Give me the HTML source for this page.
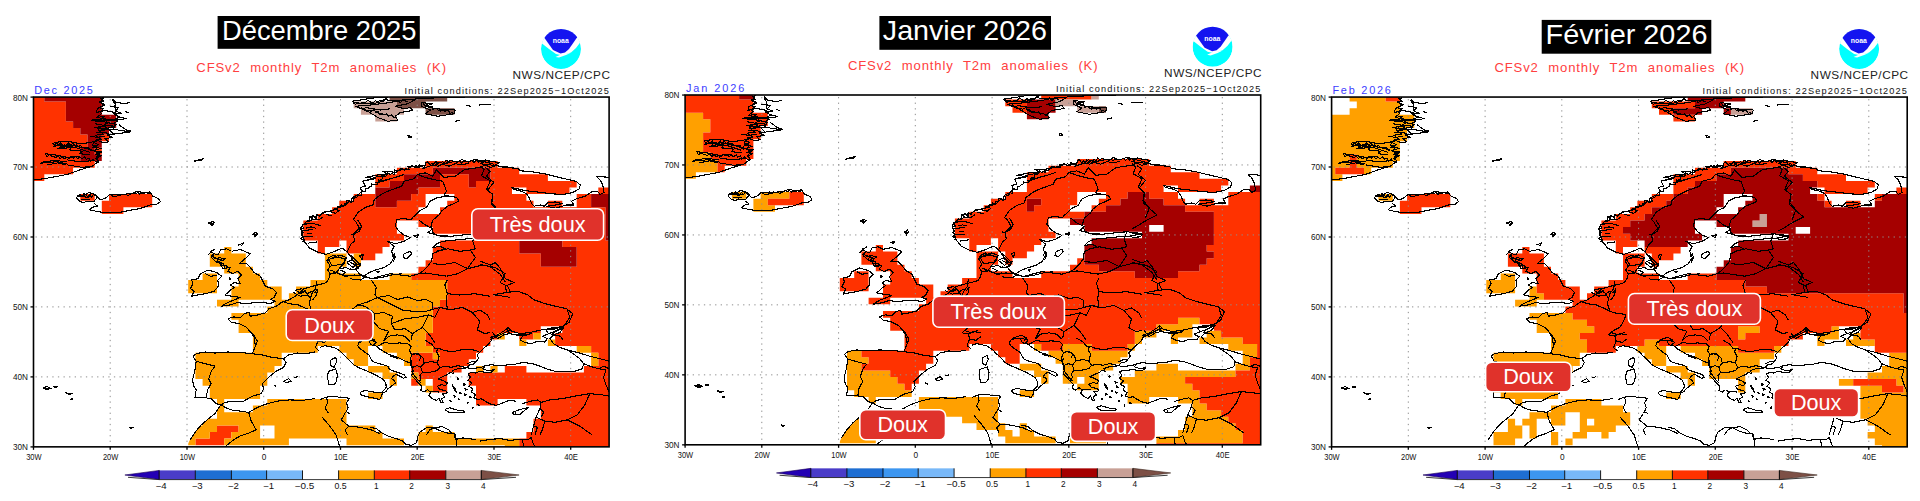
<!DOCTYPE html><html><head><meta charset="utf-8"><title>CFSv2 T2m anomalies</title>
<style>html,body{margin:0;padding:0;background:#fff}body{width:1920px;height:501px;overflow:hidden;font-family:"Liberation Sans",sans-serif}svg{display:block}text{font-family:"Liberation Sans",sans-serif}.m{font-family:"Liberation Mono",monospace}</style></head><body>
<svg width="1920" height="501" viewBox="0 0 1920 501">
<defs>
<clipPath id="frame"><rect x="33.5" y="97.05" width="575.6" height="349.8"/></clipPath>
<g id="coast" fill="none" stroke="#000" stroke-width="1.1" stroke-linejoin="round" shape-rendering="crispEdges">
<path d="M103.6,97.5 101.1,102.5 104.9,104.5 97.4,108.7 96.2,112.5 104.9,110.5 114.9,112.5 117.4,116.2 126.1,118.7 117.4,120 104.9,120 91.2,120.5 104.9,122 116.1,124.5 112.4,127.5 103.6,128.7 94.9,127.5 104.9,129.9 117.4,129.9 129.9,131.9 117.4,133.7 107.4,134.9 112.4,137.4 104.9,138.7 108.6,141.9 102.4,142.4 96.2,139.9 92.4,144.9 97.4,147.4 94.9,151.2 99.9,153.7 96.2,157.4 98.6,161.2 92.4,166.1 79.9,169.9 67.4,174.4 45,178.6 33.7,179.9"/>
<path d="M53.7,142.4 67.4,141.2 79.9,143.7 92.4,142.4"/>
<path d="M52.5,146.2 69.9,144.9 87.4,148.7 92.4,151.2"/>
<path d="M57.5,148.7 74.9,147.4 89.9,152.4"/>
<path d="M45,153.7 55,154.9 67.4,157.4 79.9,156.2"/>
<path d="M41.2,162.4 55,160.4 67.4,161.9"/>
<path d="M47.5,164.9 57.5,162.9 66.2,164.9"/>
<path d="M67.4,159.9 79.9,161.9 93.7,160.4 98.6,162.4"/>
<path d="M67.4,164.9 82.4,167.4 92.4,166.1"/>
<path d="M112.4,98.7 116.1,102.5 126.1,103.7 129.9,102"/>
<path d="M109.9,106.2 118.6,107.5 116.1,110.5"/>
<path d="M124.9,111.2 128.6,113"/>
<path d="M118.6,124.5 126.1,129.9 131.1,131.2"/>
<path d="M92.4,120 102.4,118.7 116.1,120"/>
<path d="M55,143.7 62.5,144.9 60,147.4 72.4,146.2 69.9,149.9 82.4,151.2 79.9,153.7 89.9,154.9"/>
<path d="M94.9,123.7 104.9,125.5 114.9,126.2"/>
<path d="M96.2,132.4 104.9,132.4 109.9,134.4"/>
<path d="M89.9,136.2 97.4,137.4 104.9,136.2"/>
<path d="M76.2,197.8 79.9,194.4 83.7,196.1 88.7,192.4 95.4,194.4 96.9,197.8 93.7,201.8 86.9,201.1 83.7,202.8 79.4,201.1 76.2,197.8"/>
<path d="M95.4,194.4 99.9,199.8 104.9,198.6 109.9,194.4 113.6,196.8 123.6,194.4 128.6,195.3 137.3,191.1 143.6,192.9 149.8,191.9 152.8,196.1 158.6,198.6 160.3,201.8 156.1,204.8 152.3,204.3 139.8,208.6 129.9,210.3 119.9,212.3 104.9,212.8 95.4,211.1 89.9,209.8 92.4,207.3 97.4,206.1 93.7,202.8"/>
<path d="M79.9,196.1 87.4,197.3 92.4,196.1"/>
<path d="M81.2,199.3 89.9,199.8"/>
<path d="M193.7,161.2 200,159.4 203.7,158.7 201.2,160.4 193.7,161.2"/>
<path d="M351.6,101.3 360.4,100 372.9,98 387.8,97.5 382.9,101.3 372.9,103.8 360.4,103.8 351.6,101.3"/>
<path d="M355.4,106.3 370.4,105 390.3,102.5 402.8,100 415.3,99.5 407.8,103.8 395.3,106.3 404.1,108.8 410.3,107.5 412.8,110.5 400.3,112.5 395.3,116.3 397.8,120 387.8,121.3 377.9,117.5 367.9,111.3 355.4,106.3"/>
<path d="M415.3,98.8 432.8,98 447.8,97.5 465.2,97"/>
<path d="M421.5,102.5 432.8,103.8 425.3,106.3 436.5,108.8 455.2,110 454,113.8 437.8,116.3 425.3,113.8 430.3,110 421.5,106.3 421.5,102.5"/>
<path d="M466.5,105.5 471.5,106.3"/>
<path d="M479,105 491.4,104.5"/>
<path d="M455.2,121.3 460.2,120"/>
<path d="M407.8,135 411.6,137 408.3,137.5 407.8,135"/>
<path d="M365.4,107.5 380.4,110 390.3,108.8"/>
<path d="M375.4,112.5 387.8,115"/>
<path d="M350.4,202.9 354.1,201.1 352.9,197.4 357.9,194.9 361.6,191.2 360.4,187.4 365.4,186.2 362.9,181.2 375.4,178.7 365.4,177.4 377.9,174.9 387.8,174.4 382.9,171.2 396.6,172.4 400.3,168.7 409.1,169.9 407.8,166.2 417.8,167.4 425.3,165.4 422.8,168.7 432.8,164.9 436.5,161.9 445.3,163.7 450.3,160.5 457.7,162.4 461.5,159.5 467.7,161.9 475.2,159.5 482.7,161.2 486.4,160.5 480.2,163.7 490.2,164.9 500.2,166.2 510.4,167.4"/>
<path d="M362.9,181.2 369.1,179.4 376.6,176.9 385.3,175.4"/>
<path d="M375.4,182.9 387.8,179.4 395.3,177.4 404.1,174.4"/>
<path d="M377.9,179.9 382.9,181.2 390.3,178.7"/>
<path d="M432.8,164.9 437.8,166.2 442.8,164.4 449,166.2 455.2,163.7 462.7,164.9 469,162.9"/>
<path d="M417.3,174.4 414.1,178.7 404.1,181.2 401.6,186.2 387.8,191.2 380.4,194.9 374.1,199.9 372.9,204.9 365.4,207.4 357.9,212.4 352.9,220.1"/>
<path d="M417.3,174.4 425.3,172.9 432.8,176.2 436.5,169.9 444,177.4 455.2,176.2 464,169.9 470.2,168.7 480.2,167.4 485.2,164.9"/>
<path d="M417.3,174.4 425.3,177.4 435.3,179.9 442.8,181.2 446.5,191.2 444,194.9 449,196.1"/>
<path d="M485.2,167.4 490.2,171.2 486.4,176.2 493.9,182.4 487.7,189.9 492.7,194.9 491.4,202.4 497.7,209.9 493.9,220.1"/>
<path d="M485.2,164.9 490.2,167.4 495.2,166.2"/>
<path d="M449,196.1 437.8,197.4 430.3,201.1 426.5,207.4 420.3,210.4 412.8,217.4 410.3,220.1"/>
<path d="M449,196.1 456.5,197.4 459,201.1 454,203.6 447.8,206.1 441.5,211.1 439,214.9 432.8,220.1"/>
<path d="M480.4,161.5 485.4,160 491.6,161.5 499.1,162.5 495.4,165 504.1,167.5 517.8,168.3 520.3,170.8 530.3,171.5 545.3,174 555.3,176.5 570.3,180 576.5,181.5 580.3,185 579,189 572.8,192.5 562.8,194.5 550.3,193.7 537.8,192 525.3,190.7 517.8,188.8 511.6,187.5 514.1,189.5 521.6,191.2 526.6,193.7 529.1,197.5 531.6,203.7 534.1,206.2 540.3,205 544.1,206.2 547.8,202.5 555.3,202 562.8,203.7 555.3,205 546.6,206.2 555.3,208.2 566.5,205 574,205 571.5,201.2 576.5,198.7 585.2,196.2 591.5,192 597.7,191.5 600.2,194.5 604,192.5 602.7,185 600.2,180 596.5,176.5 605.2,177 609,177.5"/>
<path d="M480.4,165.8 484.1,169.5 481.6,175.8 490.4,180.8 486.6,189.5 492.9,194.5 491.6,204.5 497.9,210.7 505.4,217 495.4,222 485.4,228.2 480.4,230.7"/>
<path d="M480.4,235.7 490.4,236.4 489.1,238.9 480.4,239.4"/>
<path d="M480.4,264.4 490.4,266.9 500.4,274.4 505.4,282.1"/>
<path d="M208.4,223 212.4,221.5 214.6,222.5 211.9,225.5 210.4,223.5 208.4,223"/>
<path d="M210.4,222.5 212.9,223.5 211.6,224.5"/>
<path d="M252.3,234.5 255.8,232 257.3,234 254.8,237 254.1,234.5 252.3,234.5"/>
<path d="M254.1,233 255.8,235"/>
<path d="M238.3,245 243.3,243 241.8,245.5 239.8,244.5 238.3,245"/>
<path d="M231.6,251.3 240.3,249.5 250.3,253.7 246.6,257.5 239.1,263.7 246.6,263.7 250.3,267.5 254.1,272.5 260.3,276.2 262.8,281.2 265.3,286.2 272.8,288.7 276.5,292.4 274,297.4 270.3,299.4 275.3,301.2 270.3,303.7 262.8,302.4 252.8,302.9 244.1,303.7 237.8,302.4 230.3,304.9 221.6,306.2 227.8,302.4 234.1,299.9 240.3,297.4 231.6,296.2 225.3,294.9 229.1,291.2 234.1,287.4 230.3,285 234.1,282.5 240.3,283.7 237.8,278.7 241.6,275 237.8,271.2 232.8,273.7 227.8,271.2 230.3,267.5 222.9,268.7 220.4,263.7 215.4,261.2 211.6,257.5 214.1,253.7 217.9,255 220.4,250 226.6,248.8 231.6,251.3"/>
<path d="M214.1,257.5 221.6,260 217.9,262.5 224.1,263.7"/>
<path d="M207.9,255 211.6,251.3 215.4,248.8"/>
<path d="M217.9,257.5 225.3,258.7 221.6,261.2"/>
<path d="M220.4,265 227.8,266.2 225.3,268.7"/>
<path d="M200.4,273.7 207.9,270 216.6,272.5 221.6,276.2 217.9,280 218.4,286.2 214.1,291.2 205.4,293.7 197.9,294.9 191.6,296.2 194.1,291.2 190.4,288.7 192.9,283.7 191.6,280 197.9,278.7 200.4,273.7"/>
<path d="M205.4,273.7 210.4,276.2 216.6,275.5"/>
<path d="M229.1,277 230.8,278.7 229.1,280 229.1,277"/>
<path d="M227.8,318.7 234.1,316.9 240.3,317.9 244.1,313.7 249.1,312.4 250.3,316.2 257.8,314.9 265.3,312.9 269,308.7 276.5,306.2 281.5,302.4 289,299.9 295.2,296.2 300.2,292.4 304,288.7 310.2,286.9 315.2,285.5 320.2,284.5 326.4,282.5 328.9,278.7 330.2,273.7 327.7,270 330.2,266.2 327.2,261.2 328.9,257.5 333.9,255 337.7,257.5 340.2,255"/>
<path d="M227.8,318.7 231.6,322.4 239.1,323.6 246.6,327.4 250.3,331.1 254.1,337.4 255.3,345.1"/>
<path d="M300.2,292.4 304,291.2 307.7,293.7 311.5,291.2 315.2,292.4 317.7,288.7"/>
<path d="M326.4,261.2 332.7,257.5 340.2,255 346.4,257.5 343.9,263.7 340.2,267.5 336.4,272.5 330.2,273.7"/>
<path d="M340.2,268.7 346.4,267.5 350.4,270"/>
<path d="M338.9,273.7 345.2,276.2 350.4,275"/>
<path d="M317.7,288.7 316.5,294.9 312.7,299.9"/>
<path d="M330.2,273.7 336.4,273"/>
<path d="M312.7,332.4 320.2,334.9 326.4,332.4"/>
<path d="M396.6,220.1 395.3,226.3 399.1,231.3 404.1,235 410.3,237.5 404.1,241.3 395.3,243.8 387.8,241.3 394.1,246.3 391.6,251.3 394.1,257.5 390.3,263.7 384.1,267.5 375.4,270 369.1,272.5 364.1,276.2 359.1,273.7 355.4,268.7 360.4,265 356.6,261.2 352.9,257.5 350.4,255"/>
<path d="M357.9,220.1 361.6,226.3 359.1,231.3 352.9,235 350.4,233.8"/>
<path d="M419,220.1 425.3,225 432.8,228.8 427.8,232.5 436.5,235 450.3,236.3 462.7,235 475.2,233.8 490.2,235.5 480.2,238 467.7,238.8 455.2,240 442.8,241.3 436.5,243.8 432.8,247.5 440.3,246.3 445.3,248.8 437.8,251.3 432.8,253.7 431.5,261.2 427.8,266.2 422.8,271.2 419,273.7"/>
<path d="M419,273.7 410.3,276.2 400.3,275 390.3,273.7 380.4,276.2 371.6,278.7 365.4,277 360.4,280 354.1,279.5 350.4,278.7"/>
<path d="M404.1,253.7 410.3,251.3 411.6,253.7 406.6,258.7 403.3,257.5 404.1,253.7"/>
<path d="M391.6,257.5 394.1,253.7 395.3,257.5 392.8,262.5"/>
<path d="M376.6,271.2 379.1,271.2 377.9,273 376.6,271.2"/>
<path d="M350.4,262.5 355.4,265 360.4,263.7 357.9,268.7 352.9,270 350.4,268.7"/>
<path d="M419,273.7 425.3,273 435.3,274.5 446.5,276.2"/>
<path d="M432.8,263.7 442.8,264.5 455.2,262.5 467.7,268.7"/>
<path d="M436.5,251.3 447.8,248.8 460.2,251.3 470.2,250"/>
<path d="M475.2,233.8 472.7,241.3 475.2,248.8 470.2,250"/>
<path d="M470.2,250 475.2,257.5 467.7,268.7"/>
<path d="M467.7,268.7 457.7,273.7 446.5,276.2"/>
<path d="M495.2,294.9 510.4,297.4"/>
<path d="M467.7,268.7 482.7,265 495.2,267.5 505.2,273.7 500.2,282.5 507.7,286.2 510.4,292.4"/>
<path d="M490.2,339.9 500.2,334.9 510.4,329.9"/>
<path d="M480.4,261.2 490.4,265 495.4,262.5 500.4,268.7 505.4,278.7 514.1,282.5 505.4,286.2 506.6,292.4 492.9,294.9"/>
<path d="M506.6,292.4 517.8,291.2 527.8,294.9 534.1,299.9 545.3,303.7 555.3,306.2 566.5,308.7 572.8,313.7 569,322.4 562.8,326.1 552.8,329.9 541.6,329.9"/>
<path d="M505.4,329.9 507.9,327.4 511.6,331.1 520.3,333.6 530.3,332.4 541.6,329.9 550.3,328.6 562.8,327.4 555.3,331.1 551.5,334.9 560.3,336.1 562.8,339.9"/>
<path d="M490.4,337.4 497.9,334.9 505.4,329.9"/>
<path d="M248.7,330 253.7,335 257.4,341.2 254.9,347.5 252.4,353.7"/>
<path d="M252.4,353.7 239.9,352.5 227.4,352 215,353 205,352 196.2,353.7 193,356.2 196.2,361.2"/>
<path d="M196.2,361.2 195,369.9 192.5,379.9 193.7,386.2 196.2,389.9 195,397.4 206.2,397.9"/>
<path d="M206.2,397.9 211.2,398.6 216.2,403.6 221.2,404.9"/>
<path d="M221.2,404.9 224.9,402.4 233.7,401.1 243.7,401.1 252.4,396.2 261.1,393.7 263.6,388.7 262.4,383.7 269.9,376.2 276.1,371.2 283.6,367.4 286.1,362.5 283.6,358.7 288.6,355 297.3,353 306.1,353.7 314.8,352"/>
<path d="M196.2,361.2 205,363.7 215,366.2 211.2,371.2 208.7,378.7 211.2,383.7 207.5,389.9 206.2,397.9"/>
<path d="M252.4,353.7 262.4,355 272.4,357.5 283.6,358.7"/>
<path d="M283.6,381.2 288.6,378.7 291.1,381.2 286.1,382.9 283.6,381.2"/>
<path d="M293.6,377.4 297.8,376.9"/>
<path d="M273.6,384.9 276.1,386.2"/>
<path d="M190,439.8 195,432.3 201.2,424.9 208.7,418.6 215,413.6 220,406.1 221.2,404.9"/>
<path d="M221.2,404.9 224.9,407.4 231.2,409.9 239.9,411.1 248.7,412.4 257.4,407.4 267.4,403.6 277.4,401.1 289.9,399.9 302.3,400.4 314.8,398.6"/>
<path d="M248.7,412.4 251.2,421.1 256.2,429.9 247.4,433.6 239.9,436.1 233.7,439.8 224.9,446.8"/>
<path d="M322.3,417.4 329.8,426.1 336,434.8 339.8,446.8"/>
<path d="M347.3,412.4 350,413.6"/>
<path d="M345,413.6 341.2,419.8 348.7,426.1 360,427.3 371.2,429.8 379.9,433.6"/>
<path d="M348.7,426.1 345,429.8 347.5,435.1"/>
<path d="M426.1,435.1 429.9,429.8 434.8,427.3 442.3,426.8 448.6,429.8 452.3,433.6"/>
<path d="M497.4,338.7 503.7,335 508.7,333.7 507.4,328.7 509.9,333.7 516.2,335 523.7,335 531.1,333.7 522.4,336.2 519.9,340 524.9,342.5 531.1,343.7 537.4,341.2 544.9,342 547.4,338.7 542.4,336.2 548.6,333.7 556.1,331.2 563.6,327.5 559.9,332.5 553.6,335 549.9,338.7 553.6,343.7 559.9,347.4 567.3,349.9 574.8,354.9 579.8,358.7 583.6,363.7 582.3,368.7 574.8,371.2 564.8,371.9 554.9,371.2 546.1,368.7 539.9,366.2 532.4,363.7 523.7,362.4 516.2,363.7"/>
<path d="M548.6,333.7 546.1,330 551.1,328 559.9,327 563.6,327.5"/>
<path d="M522.4,403.6 531.1,401.1 537.4,399.9 541.1,402.4 539.9,408.6 536.1,417.3 533.6,426.1 531.1,435.1"/>
<path d="M518.7,409.9 528.6,407.4 523.7,411.1 519.9,414.3"/>
<path d="M541.1,402.4 549.9,399.9 562.3,398.6 574.8,396.1 589.8,393.6 602.3,394.9 609.3,396.1"/>
<path d="M583.6,363.7 589.8,366.2 598.5,368.7 606,369.9 603.5,377.4 606,384.9 609.3,392.4"/>
<path d="M567.3,349.9 577.3,352.4 589.8,356.2 599.8,358.7 609.3,361.2"/>
<path d="M598.5,368.7 603.5,366.2 609.3,368.7"/>
<path d="M589.8,393.6 584.8,404.9 577.3,414.8 567.3,419.8"/>
<path d="M536.1,417.3 544.9,421.1 554.9,422.3 567.3,419.8 579.8,426.1 592.3,435.1"/>
<path d="M539.9,408.6 543.6,412.3 541.1,417.3"/>
<path d="M533.6,426.1 537.4,427.3 534.9,435.1"/>
<path d="M544.9,421.1 542.4,429.8 539.9,435.1"/>
<path d="M492.5,332.5 497.4,338.7"/>
<path d="M567.3,310 569.8,317.5 564.8,325 556.1,331.2"/>
<path d="M370,427.1 376.6,428.8 381.6,432.9 388.2,436.2 396.5,438.7 403.1,441.2 405.6,444.5 411.4,445.3 416.4,442.8 418,436.2 419.7,432.1 426.3,427.9 432.9,427.1 439.5,430.4 446.2,432.9 454.4,433.7 455.3,439.5 462.7,437.9 469.3,438.7 476,439.5"/>
<path d="M455.3,433.7 456.1,439.5 456.1,447"/>
<path d="M480,441.1 490,439.4 500,438.6 510,440.4 519.9,439.4 527.4,439.9 531.2,437.4"/>
<path d="M531.2,437.4 533.7,444.9 536.2,446.8"/>
<path d="M522.4,439.9 523.7,446.8"/>
<path d="M317.1,251.9 309.6,248.1 304.6,241.9 302.1,234.4 300.9,226.9 305.9,221.9 313.4,219.4 309.6,216.9 318.4,215.7 325.8,211.9 333.3,210.7 338.3,207 344.6,205.7 348.3,202"/>
<path d="M303.4,224.4 312.1,223.2 320.9,225.7"/>
<path d="M302.1,230.7 313.4,229.4"/>
<path d="M303.4,236.9 313.4,236.4"/>
<path d="M325.8,214.4 332.1,215.7"/>
<path d="M308.4,243.1 317.1,241.9"/>
<path d="M305.9,228.2 310.9,226.9 315.9,228.2"/>
<path d="M307.1,233.2 312.1,233.9"/>
<path d="M312.1,219.4 318.4,219.9 323.3,216.9"/>
<path d="M330.8,212.4 335.8,213.2 339.6,209.9"/>
<path d="M347.1,251.9 350.8,244.4 354.6,240.7 353.3,234.4 359.5,228.2 355.8,221.9 353.8,219.9"/>
<path d="M410.2,219.9 403.2,218.2 396.5,219.9"/>
<path d="M432.7,220.2 430.9,226.4 433.2,233.2 438.2,235.7 448.4,236.9"/>
<path d="M413.2,235.7 418.2,234.9 417,237.4 413.2,235.7"/>
<path d="M347.1,251.9 350.8,256.9 354.6,261.9 357,267.1"/>
<path d="M317.1,251.9 325.8,254.4 333.3,251.9 342.1,248.1 347.1,251.9"/>
<path d="M359.5,255.6 363.3,254.4 362,259.4 359.5,255.6"/>
<path d="M328.3,259.4 338.3,256.9 345.8,259.4 342.1,264.4 332.1,265.6 328.3,259.4"/>
<path d="M281.8,301.2 289.3,303.7 298.1,304.9 306.8,308.7 311.8,311.2 316.8,312.9 323,313.7 328,314.9"/>
<path d="M293.1,292.4 300.6,296.2 308.1,294.9 310.5,298.7 309.3,303.7 311.8,311.2"/>
<path d="M316.8,281.2 315.5,288.7 311.8,293.7 310.5,298.7"/>
<path d="M328,314.9 325.5,321.2 321.8,327.4 316.8,329.9 313,332.4 310.5,334.9 316.8,336.1 321.8,333.6 329.3,334.9"/>
<path d="M316.8,336.1 318,341.1 324.3,342.4 329.3,338.6"/>
<path d="M318,341.1 315.5,347.4 319.3,351.1"/>
<path d="M330.5,270 339.3,273.7 346.7,276.2 354.2,275 364.2,276.2 371.7,278.7 381.7,277.5 391.7,275 401.9,273.7"/>
<path d="M346.7,262.5 351.7,260 356.7,263.7 353,267.5 346.7,262.5"/>
<path d="M340.5,270 345.5,272.5 341.8,275"/>
<path d="M295.6,289.9 301.8,288.7 305.6,291.2 300.6,293.7 295.6,289.9"/>
<path d="M104.1,97.6 100.7,98.6 103.9,101.4 99.3,102 104.4,105.5 101.6,106.6 99.5,107.9 104,108.3 100,112 101.7,113.4 97,117.4 104.6,116.4 99.4,120.5 106.1,119.9 107.8,123.6 104.3,124.3 106.3,127.2 98.5,126.1 104.2,130.5 97.8,130 103.7,134.4 99.3,134.7 95.6,135.2 101.3,139.3 97.2,139.6 96.6,141.3 92.5,141.6 98.2,144.8 92.7,147.1 101.1,148.3 93,150.8 101.7,152 95.4,154.4 101.3,155.8 95.4,158.2 97.4,159.9"/>
<path d="M112.7,99.9 113.5,101.9 115.2,103.7 114.9,106.2 115.2,108.5 115.4,110.9 121.3,113.3 113.6,113.9 119.7,117.3 115.8,118.7 117.7,121.2 114.7,122.8 114.9,125 114.2,127.1 113.1,129.1 108.2,129.1 114.1,134.5 109.9,134.9"/>
<path d="M52.5,142.6 54.4,145.2 56.6,142.4 58.3,145.9 60.5,142.8 62.3,146.1 64.4,144.8 66.4,145.3 68.6,142.8 70.4,146 72.8,143.2 74.5,145.2 76.6,145 78.4,146.2 80.6,145.5 82.2,147.8 84.4,147.5 86.4,147.7 88.5,147.7 90.1,150.1 92.4,148.7"/>
<path d="M45.2,153.4 46.9,156.8 49.5,154.8 51.5,156.1 53.7,156.6 55.7,157.6 58.2,156.1 60.1,158.5 62.5,156.9 64.6,158.9 66.8,157.2 69,158.9 71.2,156.1 73.4,158 75.6,156.5 77.7,158.6 79.9,157.3 81.8,158.8 84.6,157 86.3,159.2 88.9,158.1 90.3,161.3 93.2,159 94.9,161.2"/>
<path d="M40,163.4 42.1,163.4 44.2,162.3 46.4,162.7 48.5,162 50.7,162.8 52.8,162.3 55,161.3 57.1,162 59.2,162 61.2,162.6 63.3,163.2 65.3,163.8 67.4,163.6"/>
<path d="M352.9,102.4 355.4,104.4 357.9,102.5 360.4,103.6 362.9,102.4 365.4,102.4 367.8,100.1 370.4,101.9 373,102.9 375.3,100.8 377.9,101.9 380.3,100.1 382.9,100.7 385.2,98.7 387.8,100.2 390.3,100.4 392.8,100.7 395.3,100.7 397.9,100.1 400.2,102.6 402.9,100.5 405.3,101 407.8,101.3"/>
<path d="M360.6,106.8 362.4,108.6 364.7,108.8 366.5,111 369,110.4 371.1,111.4 374,109.6 375.7,111.7 378.1,111.6 379.7,114.2 382.1,114.1 384.3,114.9 386.9,113.8 388.6,116.3 391.3,115 393.2,116.9 395.3,117.5"/>
<path d="M423.1,103 424.7,105.2 427.4,104.8 429.2,106.5 431.9,106.1 433,109.5 436,108.2 437.8,110 440.2,111.1 442.8,110.4 445.2,111.2 448,109.7 450,113.4 452.7,112"/>
<path d="M302.5,242 304.3,239.9 300.6,238.7 303.4,236.4 301.2,234.9 303.2,232.8 301.6,231.2 300.5,228.9 303.7,228.4 302.1,224.9 304.6,224.1 305.6,222.2 307.2,220.9 309.6,221.7 309.9,217.7 312.1,218 313,215.3 316.7,219 316.8,214.7 319.7,216.4 320.9,214.5 322.4,213.3 323.9,212 326,212 327.8,211.6 329.7,211.2 331.5,210.6 333.4,210.4 334.5,208.1 337.3,210 337.8,206.5 340.6,207.8 341.1,204.9 343.8,206.2 344.3,203.3 346.5,203.5 346.8,200.1 349.6,201.5"/>
<path d="M349.1,200.8 351.8,201.5 351.8,198.2 354.1,198.2 355.9,197.6 357.5,196.7 358.5,194.9 361.2,195.5 361,191.9 362.6,191 365.5,191.8 365.8,188.7 368.1,188.7 369.3,187.1 371.3,186.6 371.8,183.9 374.7,184.7 377.1,184.8 377.7,182.5 379.9,182.3 380.4,179.7 382.5,179.5 382.6,176.4 385,176.4 386.9,175.8 387.6,172.6 390.3,174.7 391.8,173.4 394.2,174.7 394.5,170 396.9,171.2 398.5,170.1 400.5,170.1 402.1,169.1 404.4,170 405.7,168.3 407.7,169.3 409.2,167.9 410.9,167.3 412.3,165.2 414.5,167.2 416,165.6 418,167.1 419.4,164.8 421.4,165.9 423.1,165.4 425,166.2 426.1,162.2 427.9,161.9 430.2,165.1 431.8,163.1 433.7,163.9 435.3,161.7 437.4,164.2 439.1,162.8 440.9,162.6 442.6,161.7 444.6,162.9 446.1,160 448.2,161.5"/>
<path d="M432.8,165.3 435,166 436.7,163.9 439.1,165.7 440.9,164.1 443,164 445,163.6 447.1,163.3 449,161.9 451.1,162.5 453.1,161.6 455.2,161.9 457.3,162.1 459.4,161.3 461.5,163 463.5,160.9 465.6,161.4 467.7,161.4 469.8,161.5 471.8,160.2 474,162.5 476,160.2 478.2,162.4 480.5,160.2 481.9,163.1 484.5,161.1 486.2,162.9 488.5,162 490.1,164.3 492.4,163.2 494,165.4 496.3,164.7 498.1,166 500.2,166.2"/>
<path d="M211.4,250.1 210.7,252.4 214.2,253.3 211.3,256.4 214.3,257.3 215.2,258.9 217.8,258.8 216.8,262.3 219.4,262.2 221.5,262.6 221.1,265.5 224.1,264.9 224.2,267.4 225.3,268.7"/>
<path d="M77,195.7 79.1,196.5 80.6,195.2 82.7,195.8 83.9,193.7 86.1,195.2 87.8,196.6 90,194.3 91.5,197 93.8,194.1 95.4,196.1"/>
<path d="M109.9,194.6 111.9,195.1 113.9,194.3 115.9,194.8 117.9,194.1 119.9,194.8 121.9,194 123.9,194.5 125.9,194 127.9,193.9 129.8,193.4 131.8,193.5 133.8,192.8 135.8,193.5 137.8,192.6 139.9,194.2 141.8,193 143.9,193.9 145.8,192.2 147.8,193.5 149.8,192.9"/>
<path d="M371.2,280 376.2,287.5 374.9,295 377.4,297.5 367.4,302 357.5,305"/>
<path d="M377.4,297.5 389.9,303.7 402.4,310 412.4,311.2 426.1,311.2 432.3,309.5 439.8,307.5 447.3,308.7"/>
<path d="M377.4,297.5 388.7,295.5 397.4,299.5 407.4,297 417.4,300.5 426.1,299.5 432.3,302.5 432.3,309.5"/>
<path d="M357.5,305 364.9,306.2 374.9,313.7 383.7,312.5 392.4,316.2 391.2,323.7 404.9,318.7 417.4,317.4 428.6,314.9"/>
<path d="M374.9,313.7 373.7,322.4 379.9,328.7 388.7,331.2 383.7,341.2"/>
<path d="M391.2,323.7 394.9,329.9 404.9,328.7 412.4,333.7 411.1,339.9"/>
<path d="M412.4,333.7 422.4,327.4 428.6,314.9 434.8,317.4 439.8,307.5"/>
<path d="M422.4,327.4 428.6,333.7 434.8,342.4"/>
<path d="M439.8,307.5 449.8,310 462.3,307.5 472.3,312.5 479.8,321.2 477.3,329.9 484.8,333.7 490,332.4"/>
<path d="M447.3,293.7 459.8,295 474.8,293.7 490,296.2"/>
<path d="M447.3,308.7 446.1,300 447.3,293.7 444.8,285 447.3,280"/>
<path d="M383.7,341.2 388.7,336.2 397.4,334.9 404.9,336.2 409.9,341.2"/>
<path d="M369.9,337.4 374.9,339.9 372.4,342.4"/>
<path d="M369.9,337.4 364.9,338.7 360,342.4"/>
<path d="M330,312.5 340,310 350,311.2 357.5,305"/>
<path d="M335,319.9 345,322.4 355,321.2 364.9,324.9 373.7,322.4"/>
<path d="M472.3,312.5 479.8,310 487.3,314.9 490,319.9"/>
<path d="M358.9,342.4 357.7,345.7 359.7,348.2 363.9,351.5 368.8,354.8 370.5,358.1 372.6,361.5 377.9,363.4 383.7,364.8 387.9,366.4 389.5,369.4 394.5,371.4 399.5,373 404.1,374.7 406.1,377.2 403.6,378.3 399.5,376 396.5,374.4 393.7,375.5 391.5,378.8 394.5,380.5 395.3,383 392.8,385 390.4,387.1 387.9,388.8 386.2,391.3 383.7,392.9 381.6,392.6"/>
<path d="M320,347.4 325,345.7 329.9,346.6 335.7,348.2 340.7,351.5 344.8,355.7 349,359.8 353.9,364.8 358.9,367.7 363.9,369.7 369.7,372.2 374.6,374.4 379.6,377.2 383.7,379.7 385.9,383.8 386.2,387.1 384.6,389.6 381.6,392.6"/>
<path d="M359.7,392.6 364.7,390.4 371.3,391.6 377.9,392.9 382.6,392.6 381.6,396.2 379.6,399.5 373,397.9 366.4,396.6 361.4,394.9 359.7,392.6"/>
<path d="M330.8,359.8 335.7,357.3 336.6,361.5 334.1,367.3 330.8,365.6 330.8,359.8"/>
<path d="M328.3,371.4 335.7,368.9 337.4,374.7 336.6,381.3 334.1,384.6 329.1,384.6 327.5,378 328.3,371.4"/>
<path d="M368.8,340.8 373,339.9 376.3,342.4 373.8,344.9 377.1,346.6 379.6,349 385.4,352.4 389.5,354.8 395.3,356.5 401.1,359 406.1,361.5 410.2,363.1 412.7,367.3 411.9,371.4 414.4,375.5 417.7,379.7 421,383"/>
<path d="M368.8,340.8 370.5,344.1 373,345.7 374.6,343.6"/>
<path d="M358.9,342.4 362.2,339.9 366.4,340.3 368.8,340.8"/>
<path d="M320,399.5 326.6,397.1 334.9,396.2 341.5,397.9 345.7,397.1 349,398.7 346.5,402.8 348.1,407.8 345.7,412.9"/>
<path d="M326.6,397.1 327.5,402.8 325,407.8 328.3,412.9"/>
<path d="M377.1,346.6 384.6,342.4 391.2,343.6 399.5,342.9 407.7,343.6 411.1,346.6 409.4,350.7 411.9,354.8 410.2,359 410.2,363.1"/>
<path d="M411.9,354.8 417.7,353.2 421,356.5 419.3,360.6"/>
<path d="M412.7,367.3 416.9,365.6 421,367.3"/>
<path d="M387.9,354.5 391.2,355.2 394.5,356.8"/>
<path d="M390.4,356.2 393.7,357.3 397.8,358.5"/>
<path d="M411.7,359.8 410.8,365.6 413.3,370.6 411.7,375.6 415,378.9 418.3,383 421.6,386.3 420.8,390.5 424.1,392.1 427.4,389.6"/>
<path d="M427.4,389.6 430.7,392.1 429,395.4 432.4,398.7 436.5,400.4 439,397.9 440.6,402.1 443.1,402.9 441.5,398.7 444.8,397.1 442.3,393.8 447.3,392.9 445.6,390.5 439.8,389.6 437.3,386.3 441.5,384.7 445.6,385.5 447.3,383 443.1,380.5 438.1,378.9 443.1,376.4 447.3,374.7 450.6,372.3 453.9,373.9 452.2,370.6 457.2,368.9 463,368.9 467.1,367.3 469.6,364.8 473.7,364 476.2,361.5 478.7,358.2 477.1,354.9 479.5,352.4 484.5,347.4 487.8,344.9 491.1,340.8 492.8,336.7"/>
<path d="M430.7,392.1 434.8,391.3 439,392.1"/>
<path d="M467.1,367.3 470.4,368.9 475.4,368.1 481.2,367.3 485.3,365.6 482.8,368.9 487.8,370.6 494.4,369.8 491.1,372.3 485.3,372.3 479.5,371.4 475.4,373.1 472.1,372.3 467.9,373.9"/>
<path d="M467.9,373.9 470.4,377.2 467.9,380.5 472.1,383 468.8,386.3 472.9,388.8 471.3,392.1 475.4,394.6 473.7,397.9 477.9,399.6 481.2,398.7 485.3,401.2 489.5,403.7 496.1,405.4 502.7,402.9 509.3,400.4 516,401.2"/>
<path d="M485.3,365.6 491.1,364.8 499.4,365.6 509.3,364.8 516,364"/>
<path d="M418.3,383 420.8,379.7 419.9,375.6 422.4,372.3"/>
<path d="M422.4,372.3 420.8,367.3 424.1,363.1 431.5,361.5 437.3,363.1 439.8,367.3 437.3,370.6 429.9,372.3 422.4,372.3"/>
<path d="M424.1,363.1 423.2,358.2 419.9,354.9 413.3,353.2"/>
<path d="M437.3,363.1 439,356.5 436.5,351.6 438.1,348.2"/>
<path d="M439.8,367.3 445.6,366.5 451.4,367.3 458,365.6 464.6,367.3 467.1,367.3"/>
<path d="M467.1,364 472.1,361.5 476.2,361.5"/>
<path d="M438.1,348.2 444.8,350.7 453,351.6 461.3,349.9 469.6,349.1 476.2,350.7 479.5,352.4"/>
<path d="M424.9,340 431.5,344.1 434.8,348.2 438.1,348.2"/>
<path d="M444.8,409.5 449.7,407.8 458,410.3 464.6,411.2 463.8,412.8 456.4,412.8 448.1,412 444.8,409.5"/>
<path d="M457.2,377.7 458.8,378.9 457.7,379.4 457.2,377.7"/>
<path d="M463,383 465.5,384.7 463.8,385.2 463,383"/>
<path d="M464.6,388 467.1,389.6 465.5,390.1 464.6,388"/>
<path d="M458,397.9 459.7,399.6 458.3,399.9 458,397.9"/>
<path d="M463.8,393.8 466.3,394.6 464.6,395.3 463.8,393.8"/>
<path d="M449.7,400.4 451.4,401.2 450.2,401.7 449.7,400.4"/>
<path d="M467.1,402.1 468.3,402.9 467.3,403.4 467.1,402.1"/>
<path d="M472.1,407.8 473.2,407 472.9,408.5 472.1,407.8"/>
<path d="M477.9,403.7 479.5,405.4 478.2,405.9 477.9,403.7"/>
<path d="M452.2,384.7 454.7,388 456.4,392.1 454.4,389.6 452.2,384.7"/>
<path d="M511.8,412.8 515.1,411.2 516,413.6"/>
<path d="M459.7,392.1 461.3,393.3 460.2,393.9 459.7,392.1"/>
<path d="M469.6,396.3 471.3,397.6 469.9,398.1 469.6,396.3"/>
<path d="M453.9,395.4 455.5,396.6 454.2,397.1 453.9,395.4"/>
<path d="M512.4,412.3 518.7,409.9 528.6,407.4 523.7,411.1 519.9,414.3 513.7,414.8 512.4,412.3"/>
<path d="M43,388 47,386.5 51,388.5 47,389.5 43,388"/>
<path d="M44,388 50,388.2"/>
<path d="M54,386.3 57,386.3 57,387.3 54,387.3 54,386.3"/>
<path d="M65,392.5 69,393.5 72,393.5 69,394.5 65,392.5"/>
<path d="M70.7,398.5 72.8,398.5 72.8,399.6 70.7,399.6 70.7,398.5"/>
<path d="M129.5,427 133,427.5 131,428.5 129.5,427"/>
</g>
<g id="ocean" fill="#fff" stroke="none">
<path d="M185,404.9 221.2,404.9 220,406.1 215,413.6 208.7,418.6 201.2,424.9 195,432.3 190,439.8 185,449.8Z"/>
</g>
<g id="grid" stroke="#8e8e8e" stroke-width="1" stroke-dasharray="1.3 4.3" fill="none">
<path d="M110.2,99.05V446.85"/>
<path d="M187.0,99.05V446.85"/>
<path d="M263.7,99.05V446.85"/>
<path d="M340.5,99.05V446.85"/>
<path d="M417.2,99.05V446.85"/>
<path d="M494.0,99.05V446.85"/>
<path d="M570.7,99.05V446.85"/>
<path d="M35.5,376.9H609.1"/>
<path d="M35.5,306.9H609.1"/>
<path d="M35.5,237.0H609.1"/>
<path d="M35.5,167.0H609.1"/>
</g>
<g id="axes">
<rect x="33.5" y="97.05" width="575.6" height="349.8" fill="none" stroke="#000" stroke-width="1.6"/>
<g stroke="#000" stroke-width="1.3">
<path d="M33.5,446.85v3"/>
<path d="M110.2,446.85v3"/>
<path d="M187.0,446.85v3"/>
<path d="M263.7,446.85v3"/>
<path d="M340.5,446.85v3"/>
<path d="M417.2,446.85v3"/>
<path d="M494.0,446.85v3"/>
<path d="M570.7,446.85v3"/>
<path d="M33.5,446.9h-3"/>
<path d="M33.5,376.9h-3"/>
<path d="M33.5,306.9h-3"/>
<path d="M33.5,237.0h-3"/>
<path d="M33.5,167.0h-3"/>
<path d="M33.5,97.1h-3"/>
</g>
<g font-size="9.4" fill="#111">
<text x="26.2" y="459.8" textLength="15.4" lengthAdjust="spacingAndGlyphs">30W</text>
<text x="102.9" y="459.8" textLength="15.4" lengthAdjust="spacingAndGlyphs">20W</text>
<text x="179.7" y="459.8" textLength="15.4" lengthAdjust="spacingAndGlyphs">10W</text>
<text x="261.8" y="459.8" textLength="4.6" lengthAdjust="spacingAndGlyphs">0</text>
<text x="334.0" y="459.8" textLength="13.8" lengthAdjust="spacingAndGlyphs">10E</text>
<text x="410.7" y="459.8" textLength="13.8" lengthAdjust="spacingAndGlyphs">20E</text>
<text x="487.5" y="459.8" textLength="13.8" lengthAdjust="spacingAndGlyphs">30E</text>
<text x="564.2" y="459.8" textLength="13.8" lengthAdjust="spacingAndGlyphs">40E</text>
<text x="12.9" y="450.2" textLength="15" lengthAdjust="spacingAndGlyphs">30N</text>
<text x="12.9" y="380.3" textLength="15" lengthAdjust="spacingAndGlyphs">40N</text>
<text x="12.9" y="310.3" textLength="15" lengthAdjust="spacingAndGlyphs">50N</text>
<text x="12.9" y="240.4" textLength="15" lengthAdjust="spacingAndGlyphs">60N</text>
<text x="12.9" y="170.4" textLength="15" lengthAdjust="spacingAndGlyphs">70N</text>
<text x="12.9" y="100.5" textLength="15" lengthAdjust="spacingAndGlyphs">80N</text>
</g>
<path d="M124.9,475.0L159.2,470.4V479.6Z" fill="#2300b4" stroke="#1a0050" stroke-width="0.6"/>
<rect x="159.2" y="470.4" width="36.10000000000002" height="9.200000000000045" fill="#4a3cc8"/>
<rect x="195.3" y="470.4" width="36.099999999999994" height="9.200000000000045" fill="#1e6ed2"/>
<rect x="231.4" y="470.4" width="35.20000000000002" height="9.200000000000045" fill="#3c96f0"/>
<rect x="266.6" y="470.4" width="35.89999999999998" height="9.200000000000045" fill="#78b8f8"/>
<rect x="302.5" y="470.4" width="36.10000000000002" height="9.200000000000045" fill="#ffffff"/>
<rect x="338.6" y="470.4" width="35.69999999999999" height="9.200000000000045" fill="#ffa000"/>
<rect x="374.3" y="470.4" width="35.39999999999998" height="9.200000000000045" fill="#ff3200"/>
<rect x="409.7" y="470.4" width="36.10000000000002" height="9.200000000000045" fill="#a50000"/>
<rect x="445.8" y="470.4" width="35.5" height="9.200000000000045" fill="#c8a096"/>
<path d="M519.1,475.0L481.3,470.4V479.6Z" fill="#7d5046" stroke="#3c2820" stroke-width="0.6"/>
<path d="M128,477.3L159.2,479.6H481.3L516,477.3" fill="none" stroke="#222" stroke-width="0.9"/>
<g stroke="#000" stroke-width="0.9">
<path d="M159.2,470.4V479.6"/>
<path d="M195.3,470.4V479.6"/>
<path d="M231.4,470.4V479.6"/>
<path d="M266.6,470.4V479.6"/>
<path d="M302.5,470.4V479.6"/>
<path d="M338.6,470.4V479.6"/>
<path d="M374.3,470.4V479.6"/>
<path d="M409.7,470.4V479.6"/>
<path d="M445.8,470.4V479.6"/>
<path d="M481.3,470.4V479.6"/>
</g>
<g font-size="8.6" fill="#111">
<text x="155.6" y="488.8" textLength="11" lengthAdjust="spacingAndGlyphs">−4</text>
<text x="191.7" y="488.8" textLength="11" lengthAdjust="spacingAndGlyphs">−3</text>
<text x="227.8" y="488.8" textLength="11" lengthAdjust="spacingAndGlyphs">−2</text>
<text x="263.0" y="488.8" textLength="11" lengthAdjust="spacingAndGlyphs">−1</text>
<text x="294.6" y="488.8" textLength="19.6" lengthAdjust="spacingAndGlyphs">−0.5</text>
<text x="334.4" y="488.8" textLength="12.2" lengthAdjust="spacingAndGlyphs">0.5</text>
<text x="373.9" y="488.8" textLength="4.6" lengthAdjust="spacingAndGlyphs">1</text>
<text x="409.3" y="488.8" textLength="4.6" lengthAdjust="spacingAndGlyphs">2</text>
<text x="445.4" y="488.8" textLength="4.6" lengthAdjust="spacingAndGlyphs">3</text>
<text x="480.9" y="488.8" textLength="4.6" lengthAdjust="spacingAndGlyphs">4</text>
</g>
</g>
</defs>
<rect width="1920" height="501" fill="#fff"/>
<g transform="translate(0,0)">
<g clip-path="url(#frame)">
<path fill-rule="evenodd" d="M109,141.2 109,134.6 101.8,134.6 101.8,141.2ZM101.8,161.1 101.8,161.1 80.3,161.1 80.3,154.4 80.3,147.8 87.5,147.8 87.5,141.2 87.5,134.6 80.3,134.6 80.3,128 73.1,128 73.1,121.4 65.9,121.4 65.9,114.8 65.9,108.2 65.9,101.6 44.3,101.6 44.3,97 33.5,97 33.5,180.9 44.3,180.9 44.3,174.3 73.1,174.3 73.1,167.7 94.7,167.7 94.7,161.1ZM101.8,147.8 94.7,147.8 94.7,154.4 101.8,154.4ZM598.3,187.5 598.3,194.1 609.1,194.1 609.1,187.5ZM80.3,200.7 94.7,200.7 94.7,194.1 80.3,194.1ZM109,194.1 109,200.7 101.8,200.7 101.8,213.9 123.4,213.9 123.4,207.3 152.2,207.3 152.2,194.1ZM324.9,253.6 346.5,253.6 346.5,253.6 324.9,253.6ZM375.3,253.6 382.5,253.6 382.5,247 389.6,247 389.6,240.4 404,240.4 404,233.8 396.9,233.8 396.9,227.1 396.9,220.5 418.4,220.5 418.4,227.1 432.8,227.1 432.8,233.8 490.4,233.8 490.4,240.4 440,240.4 440,247 432.8,247 432.8,253.6 432.8,260.2 425.6,260.2 425.6,266.8 418.4,266.8 418.4,273.4 411.2,273.4 411.2,280 447.2,280 447.2,299.8 440,299.8 440,306.4 432.8,306.4 432.8,332.9 425.6,332.9 425.6,346.1 432.8,346.1 432.8,352.7 411.2,352.7 411.2,365.9 411.2,365.9 411.2,372.5 418.4,372.5 418.4,379.1 425.6,379.1 432.8,379.1 432.8,385.8 432.8,392.4 447.2,392.4 447.2,385.8 447.2,379.1 447.2,372.5 461.6,372.5 461.6,365.9 468.8,365.9 468.8,359.3 476,359.3 476,352.7 483.2,352.7 483.2,352.7 483.2,346.1 490.4,346.1 490.4,339.5 497.6,339.5 497.6,332.9 504.8,332.9 519.2,332.9 519.2,339.5 526.4,339.5 533.5,339.5 533.5,332.9 540.8,332.9 540.8,326.3 555.1,326.3 562.3,326.3 562.3,332.9 555.1,332.9 555.1,339.5 555.1,346.1 562.3,346.1 569.5,346.1 576.7,346.1 591.1,346.1 591.1,352.7 598.3,352.7 598.3,359.3 598.3,365.9 591.1,365.9 583.9,365.9 583.9,372.5 576.7,372.5 569.5,372.5 540.8,372.5 526.4,372.5 526.4,365.9 512,365.9 504.8,365.9 504.8,372.5 497.6,372.5 490.4,372.5 483.2,372.5 476,372.5 468.8,372.5 468.8,379.1 468.8,385.8 476,385.8 476,392.4 476,399 476,405.6 490.4,405.6 497.6,405.6 497.6,399 512,399 526.4,399 526.4,405.6 540.8,405.6 540.8,412.2 540.8,418.8 533.5,418.8 533.5,425.4 533.5,432 526.4,432 526.4,438.6 519.2,438.6 519.2,446.9 609.1,446.9 609.1,240.4 605.5,240.4 605.5,233.8 605.5,227.1 605.5,220.5 605.5,213.9 605.5,207.3 591.1,207.3 591.1,200.7 591.1,194.1 576.7,194.1 576.7,200.7 576.7,207.3 562.3,207.3 562.3,200.7 547.9,200.7 547.9,207.3 533.5,207.3 533.5,200.7 526.4,200.7 526.4,194.1 569.5,194.1 569.5,187.5 576.7,187.5 576.7,180.9 547.9,180.9 547.9,174.3 519.2,174.3 519.2,167.7 512,167.7 497.6,167.7 497.6,161.1 476,161.1 425.6,161.1 425.6,167.7 396.9,167.7 396.9,174.3 375.3,174.3 375.3,187.5 389.6,187.5 389.6,180.9 404,180.9 404,174.3 432.8,174.3 432.8,167.7 490.4,167.7 490.4,174.3 490.4,180.9 476,180.9 476,187.5 468.8,187.5 468.8,180.9 468.8,174.3 440,174.3 440,180.9 440,187.5 418.4,187.5 418.4,194.1 411.2,194.1 411.2,200.7 404,200.7 396.9,200.7 396.9,207.3 375.3,207.3 375.3,200.7 375.3,194.1 353.7,194.1 353.7,200.7 339.3,200.7 339.3,207.3 332.1,207.3 332.1,213.9 317.7,213.9 317.7,220.5 346.5,220.5 353.7,220.5 353.7,220.5 303.3,220.5 303.3,227.1 303.3,233.8 303.3,240.4 317.7,240.4 317.7,247 317.7,253.6 324.9,253.6 324.9,247 339.3,247 339.3,240.4 346.5,240.4 346.5,247 346.5,253.6 353.7,253.6 353.7,253.6 360.9,253.6 360.9,260.2 375.3,260.2ZM512,194.1 512,187.5 526.4,187.5 526.4,194.1ZM418.4,213.9 418.4,207.3 425.6,207.3 425.6,194.1 454.4,194.1 454.4,200.7 447.2,200.7 447.2,207.3 440,207.3 440,213.9ZM512,233.8 497.6,233.8 497.6,227.1 512,227.1ZM540.8,253.6 519.2,253.6 519.2,240.4 562.3,240.4 562.3,247 576.7,247 576.7,266.8 540.8,266.8ZM432.8,352.7 440,352.7 440,359.3 432.8,359.3ZM418.4,379.1 411.2,379.1 411.2,385.8 418.4,385.8ZM195.4,445.2 224.2,445.2 224.2,438.6 231.4,438.6 231.4,432 238.6,432 238.6,425.4 217,425.4 217,432 209.8,432 209.8,438.6 195.4,438.6Z" fill="#ff3200"/>
<path fill-rule="evenodd" d="M396.9,101.6 396.9,108.2 404,108.2 425.6,108.2 425.6,101.6 447.2,101.6 447.2,97 389.6,97 389.6,101.6ZM454.4,114.8 454.4,108.2 425.6,108.2 425.6,114.8Z" fill="#7d5046"/>
<path fill-rule="evenodd" d="M396.9,121.4 396.9,114.8 404,114.8 404,108.2 396.9,108.2 396.9,101.6 389.6,101.6 353.7,101.6 353.7,108.2 360.9,108.2 360.9,114.8 375.3,114.8 375.3,121.4Z" fill="#c8a096"/>
<path fill-rule="evenodd" d="M375.3,200.7 375.3,207.3 396.9,207.3 396.9,200.7 404,200.7 411.2,200.7 411.2,194.1 418.4,194.1 418.4,187.5 440,187.5 440,180.9 440,174.3 468.8,174.3 468.8,180.9 468.8,187.5 476,187.5 476,180.9 490.4,180.9 490.4,174.3 490.4,167.7 432.8,167.7 432.8,174.3 404,174.3 404,180.9 389.6,180.9 389.6,187.5 375.3,187.5 375.3,194.1 375.3,194.1 375.3,194.1ZM65.9,121.4 73.1,121.4 73.1,128 80.3,128 80.3,134.6 87.5,134.6 87.5,141.2 87.5,147.8 80.3,147.8 80.3,154.4 80.3,161.1 101.8,161.1 101.8,154.4 94.7,154.4 94.7,147.8 101.8,147.8 101.8,141.2 101.8,141.2 101.8,134.6 109,134.6 109,128 109,128 116.2,128 116.2,114.8 101.8,114.8 101.8,97 44.3,97 44.3,101.6 65.9,101.6 65.9,108.2 65.9,114.8ZM605.5,220.5 605.5,227.1 605.5,233.8 605.5,240.4 609.1,240.4 609.1,194.1 598.3,194.1 598.3,194.1 591.1,194.1 591.1,200.7 591.1,207.3 605.5,207.3 605.5,213.9ZM576.7,247 562.3,247 562.3,240.4 519.2,240.4 519.2,253.6 540.8,253.6 540.8,266.8 576.7,266.8Z" fill="#a50000"/>
<path fill-rule="evenodd" d="M526.4,339.5 519.2,339.5 519.2,346.1 526.4,346.1ZM598.3,365.9 598.3,359.3 598.3,352.7 591.1,352.7 591.1,359.3 591.1,365.9ZM591.1,346.1 576.7,346.1 576.7,352.7 576.7,352.7 583.9,352.7 591.1,352.7ZM533.5,332.9 533.5,339.5 540.8,339.5 540.8,332.9ZM555.1,339.5 547.9,339.5 547.9,346.1 555.1,346.1ZM497.6,372.5 497.6,365.9 490.4,365.9 490.4,372.5ZM497.6,332.9 497.6,339.5 504.8,339.5 504.8,332.9ZM483.2,372.5 483.2,365.9 476,365.9 476,372.5ZM360.9,260.2 360.9,253.6 353.7,253.6 353.7,260.2 353.7,260.2 353.7,266.8 353.7,266.8 360.9,266.8 360.9,260.2ZM209.8,253.6 209.8,266.8 224.2,266.8 224.2,273.4 238.6,273.4 238.6,286.6 231.4,286.6 231.4,299.8 217,299.8 217,306.4 238.6,306.4 238.6,299.8 281.7,299.8 281.7,286.6 267.3,286.6 267.3,280 260.1,280 260.1,273.4 252.9,273.4 252.9,266.8 245.8,266.8 245.8,253.6 231.4,253.6 231.4,247 224.2,247 224.2,253.6ZM217,273.4 202.6,273.4 202.6,280 188.2,280 188.2,293.2 217,293.2ZM288.9,293.2 288.9,299.8 274.5,299.8 274.5,306.4 267.3,306.4 267.3,313.1 231.4,313.1 231.4,319.7 238.6,319.7 238.6,326.3 238.6,332.9 252.9,332.9 252.9,339.5 252.9,346.1 252.9,352.7 195.4,352.7 195.4,359.3 195.4,365.9 195.4,372.5 195.4,379.1 202.6,379.1 202.6,385.8 209.8,385.8 209.8,392.4 209.8,399 217,399 217,405.6 217,412.2 217,418.8 202.6,418.8 202.6,425.4 195.4,425.4 195.4,432 188.2,432 188.2,438.6 188.2,445.2 267.3,445.2 274.5,445.2 288.9,445.2 288.9,438.6 346.5,438.6 346.5,445.2 368.1,445.2 375.3,445.2 404,445.2 404,438.6 382.5,438.6 382.5,432 375.3,432 375.3,425.4 368.1,425.4 346.5,425.4 346.5,418.8 346.5,412.2 346.5,405.6 346.5,399 288.9,399 267.3,399 267.3,405.6 252.9,405.6 252.9,412.2 224.2,412.2 224.2,405.6 224.2,399 252.9,399 260.1,399 260.1,392.4 260.1,385.8 267.3,385.8 267.3,379.1 267.3,372.5 274.5,372.5 274.5,365.9 281.7,365.9 281.7,359.3 281.7,352.7 303.3,352.7 303.3,352.7 317.7,352.7 317.7,346.1 324.9,346.1 339.3,346.1 339.3,352.7 346.5,352.7 346.5,359.3 353.7,359.3 353.7,365.9 368.1,365.9 368.1,359.3 368.1,352.7 368.1,346.1 375.3,346.1 382.5,346.1 382.5,352.7 396.9,352.7 396.9,359.3 404,359.3 404,365.9 411.2,365.9 411.2,352.7 432.8,352.7 432.8,346.1 425.6,346.1 425.6,332.9 432.8,332.9 432.8,306.4 440,306.4 440,299.8 447.2,299.8 447.2,280 411.2,280 411.2,273.4 389.6,273.4 389.6,280 360.9,280 360.9,273.4 353.7,273.4 353.7,273.4 339.3,273.4 339.3,266.8 346.5,266.8 346.5,260.2 346.5,253.6 324.9,253.6 324.9,260.2 324.9,266.8 324.9,273.4 324.9,280 310.5,280 310.5,286.6 303.3,286.6 303.3,286.6 296.1,286.6 296.1,293.2ZM274.5,438.6 267.3,438.6 260.1,438.6 260.1,432 260.1,425.4 267.3,425.4 274.5,425.4 274.5,432ZM209.8,438.6 209.8,432 217,432 217,425.4 238.6,425.4 238.6,432 231.4,432 231.4,438.6 224.2,438.6 224.2,445.2 195.4,445.2 195.4,438.6ZM432.8,352.7 432.8,359.3 440,359.3 440,352.7ZM396.9,379.1 396.9,372.5 389.6,372.5 389.6,365.9 382.5,365.9 368.1,365.9 368.1,372.5 382.5,372.5 382.5,379.1 389.6,379.1 389.6,385.8 396.9,385.8ZM411.2,372.5 411.2,379.1 418.4,379.1 418.4,372.5ZM418.4,379.1 418.4,385.8 425.6,385.8 425.6,379.1ZM432.8,392.4 432.8,385.8 425.6,385.8 425.6,392.4ZM382.5,399 382.5,392.4 375.3,392.4 368.1,392.4 368.1,399 375.3,399ZM425.6,425.4 425.6,432 418.4,432 418.4,438.6 418.4,445.2 476,445.2 504.8,445.2 504.8,446.9 519.2,446.9 519.2,438.6 519.2,438.6 504.8,438.6 476,438.6 454.4,438.6 454.4,432 432.8,432 432.8,425.4Z" fill="#ffa000"/>
<use href="#ocean"/><use href="#grid"/><use href="#coast"/></g>
<use href="#axes"/>
</g>
<g transform="translate(651.6,-2.05)">
<g clip-path="url(#frame)">
<path fill-rule="evenodd" d="M310.5,418.8 310.5,425.4 324.9,425.4 324.9,432 346.5,432 346.5,438.6 353.7,438.6 353.7,445.2 368.1,445.2 375.3,445.2 404,445.2 404,438.6 382.5,438.6 382.5,432 375.3,432 375.3,425.4 368.1,425.4 368.1,432 368.1,438.6 360.9,438.6 360.9,432 353.7,432 353.7,425.4 346.5,425.4 346.5,418.8 346.5,412.2 346.5,405.6 346.5,399 288.9,399 267.3,399 267.3,405.6 267.3,412.2 274.5,412.2 274.5,418.8 296.1,418.8ZM526.4,339.5 533.5,339.5 540.8,339.5 540.8,332.9 540.8,326.3 547.9,326.3 547.9,319.7 526.4,319.7 526.4,326.3 504.8,326.3 504.8,332.9 519.2,332.9 519.2,339.5 519.2,346.1 526.4,346.1ZM490.4,332.9 483.2,332.9 483.2,339.5 483.2,346.1 490.4,346.1 490.4,339.5 504.8,339.5 504.8,332.9ZM58.7,134.6 58.7,121.4 51.5,121.4 51.5,114.8 33.5,114.8 33.5,180.9 44.3,180.9 44.3,174.3 65.9,174.3 65.9,167.7 65.9,161.1 58.7,161.1 58.7,154.4 51.5,154.4 51.5,134.6ZM94.7,200.7 94.7,194.1 80.3,194.1 80.3,200.7ZM116.2,207.3 116.2,200.7 137.8,200.7 137.8,194.1 109,194.1 109,200.7 101.8,200.7 101.8,213.9 123.4,213.9 123.4,207.3ZM382.5,346.1 382.5,352.7 389.6,352.7 389.6,346.1ZM368.1,365.9 368.1,365.9 360.9,365.9 360.9,365.9ZM396.9,385.8 396.9,379.1 396.9,372.5 389.6,372.5 389.6,365.9 382.5,365.9 368.1,365.9 368.1,372.5 382.5,372.5 382.5,379.1 389.6,379.1 389.6,385.8ZM238.6,379.1 238.6,372.5 209.8,372.5 209.8,365.9 217,365.9 217,359.3 209.8,359.3 209.8,352.7 195.4,352.7 195.4,359.3 195.4,365.9 195.4,372.5 195.4,379.1 195.4,385.8 195.4,392.4 202.6,392.4 202.6,399 209.8,399 217,399 217,405.6 217,405.6 224.2,405.6 224.2,405.6 224.2,399 252.9,399 260.1,399 260.1,392.4 252.9,392.4 252.9,385.8 245.8,385.8 245.8,379.1ZM375.3,399 382.5,399 382.5,392.4 375.3,392.4 368.1,392.4 368.1,399ZM224.2,445.2 224.2,438.6 209.8,438.6 209.8,432 209.8,425.4 209.8,418.8 202.6,418.8 202.6,425.4 195.4,425.4 195.4,432 188.2,432 188.2,438.6 188.2,445.2ZM547.9,346.1 569.5,346.1 576.7,346.1 576.7,352.7 576.7,352.7 591.1,352.7 591.1,359.3 591.1,365.9 583.9,365.9 583.9,372.5 598.3,372.5 598.3,359.3 605.5,359.3 605.5,352.7 609.1,352.7 609.1,352.7 605.5,352.7 605.5,346.1 591.1,346.1 591.1,339.5 569.5,339.5 569.5,332.9 562.3,332.9 555.1,332.9 555.1,339.5 547.9,339.5ZM396.9,352.7 396.9,359.3 404,359.3 404,365.9 411.2,365.9 411.2,372.5 411.2,379.1 411.2,385.8 425.6,385.8 425.6,392.4 447.2,392.4 447.2,385.8 447.2,379.1 447.2,372.5 461.6,372.5 461.6,365.9 468.8,365.9 468.8,359.3 476,359.3 476,352.7 483.2,352.7 483.2,352.7 483.2,346.1 476,346.1 476,352.7 440,352.7 440,346.1 411.2,346.1 411.2,352.7ZM425.6,379.1 432.8,379.1 432.8,385.8 425.6,385.8ZM569.5,418.8 569.5,412.2 555.1,412.2 555.1,405.6 547.9,405.6 547.9,392.4 540.8,392.4 540.8,392.4 540.8,392.4 540.8,385.8 533.5,385.8 533.5,379.1 583.9,379.1 583.9,372.5 569.5,372.5 540.8,372.5 526.4,372.5 526.4,365.9 512,365.9 504.8,365.9 504.8,372.5 497.6,372.5 490.4,372.5 483.2,372.5 483.2,379.1 468.8,379.1 468.8,385.8 476,385.8 476,392.4 476,399 476,405.6 490.4,405.6 497.6,405.6 497.6,399 512,399 526.4,399 526.4,405.6 540.8,405.6 540.8,412.2 540.8,418.8 533.5,418.8 533.5,425.4 533.5,432 526.4,432 526.4,438.6 519.2,438.6 504.8,438.6 504.8,445.2 591.1,445.2 591.1,432 583.9,432 583.9,425.4 576.7,425.4 576.7,418.8ZM418.4,445.2 454.4,445.2 454.4,438.6 418.4,438.6Z" fill="#ffa000"/>
<path fill-rule="evenodd" d="M404,101.6 425.6,101.6 440,101.6 440,97 389.6,97 389.6,101.6ZM353.7,101.6 353.7,108.2 360.9,108.2 360.9,114.8 375.3,114.8 375.3,101.6ZM116.2,128 116.2,114.8 101.8,114.8 101.8,101.6 87.5,101.6 87.5,97 33.5,97 33.5,114.8 51.5,114.8 51.5,121.4 58.7,121.4 58.7,134.6 51.5,134.6 51.5,154.4 58.7,154.4 58.7,161.1 65.9,161.1 65.9,167.7 65.9,174.3 73.1,174.3 73.1,167.7 94.7,167.7 94.7,161.1 101.8,161.1 101.8,141.2 109,141.2 109,128ZM152.2,194.1 137.8,194.1 137.8,200.7 116.2,200.7 116.2,207.3 123.4,207.3 152.2,207.3ZM260.1,280 260.1,273.4 252.9,273.4 252.9,266.8 245.8,266.8 245.8,253.6 231.4,253.6 231.4,247 224.2,247 224.2,253.6 209.8,253.6 209.8,266.8 224.2,266.8 224.2,273.4 238.6,273.4 238.6,286.6 231.4,286.6 231.4,299.8 217,299.8 217,306.4 238.6,306.4 238.6,299.8 281.7,299.8 281.7,286.6 267.3,286.6 267.3,280ZM188.2,293.2 217,293.2 217,273.4 202.6,273.4 202.6,280 188.2,280ZM209.8,359.3 217,359.3 217,365.9 209.8,365.9 209.8,372.5 238.6,372.5 238.6,379.1 245.8,379.1 245.8,385.8 252.9,385.8 252.9,392.4 260.1,392.4 260.1,399 260.1,399 260.1,392.4 260.1,385.8 267.3,385.8 267.3,379.1 267.3,372.5 274.5,372.5 274.5,365.9 281.7,365.9 281.7,359.3 281.7,352.7 303.3,352.7 303.3,352.7 317.7,352.7 317.7,346.1 324.9,346.1 339.3,346.1 339.3,352.7 346.5,352.7 346.5,359.3 353.7,359.3 353.7,365.9 360.9,365.9 360.9,365.9 368.1,365.9 368.1,359.3 368.1,352.7 368.1,346.1 375.3,346.1 382.5,346.1 389.6,346.1 389.6,352.7 396.9,352.7 396.9,359.3 396.9,359.3 396.9,352.7 411.2,352.7 411.2,346.1 440,346.1 440,352.7 476,352.7 476,346.1 483.2,346.1 483.2,339.5 483.2,332.9 490.4,332.9 504.8,332.9 504.8,326.3 526.4,326.3 526.4,319.7 547.9,319.7 547.9,326.3 555.1,326.3 562.3,326.3 562.3,332.9 569.5,332.9 569.5,339.5 591.1,339.5 591.1,346.1 605.5,346.1 605.5,352.7 609.1,352.7 609.1,346.1 609.1,194.1 598.3,194.1 576.7,194.1 576.7,200.7 576.7,207.3 562.3,207.3 562.3,200.7 547.9,200.7 547.9,207.3 533.5,207.3 533.5,213.9 562.3,213.9 562.3,220.5 562.3,247 555.1,247 555.1,253.6 562.3,253.6 562.3,260.2 555.1,260.2 555.1,266.8 547.9,266.8 547.9,273.4 526.4,273.4 526.4,280 512,280 483.2,280 483.2,273.4 476,273.4 447.2,273.4 447.2,266.8 432.8,266.8 432.8,260.2 425.6,260.2 425.6,266.8 418.4,266.8 418.4,273.4 389.6,273.4 389.6,280 360.9,280 360.9,273.4 353.7,273.4 353.7,273.4 339.3,273.4 339.3,266.8 346.5,266.8 346.5,260.2 346.5,253.6 324.9,253.6 324.9,260.2 324.9,266.8 324.9,273.4 324.9,280 310.5,280 310.5,286.6 303.3,286.6 303.3,286.6 296.1,286.6 296.1,293.2 288.9,293.2 288.9,299.8 274.5,299.8 274.5,306.4 267.3,306.4 267.3,313.1 231.4,313.1 231.4,319.7 238.6,319.7 238.6,326.3 238.6,332.9 252.9,332.9 252.9,339.5 252.9,346.1 252.9,352.7 209.8,352.7ZM425.6,161.1 425.6,167.7 396.9,167.7 396.9,174.3 375.3,174.3 375.3,194.1 353.7,194.1 353.7,200.7 339.3,200.7 339.3,207.3 332.1,207.3 332.1,213.9 317.7,213.9 317.7,220.5 346.5,220.5 353.7,220.5 353.7,220.5 303.3,220.5 303.3,227.1 303.3,233.8 303.3,240.4 317.7,240.4 317.7,247 317.7,253.6 324.9,253.6 324.9,247 339.3,247 339.3,240.4 346.5,240.4 346.5,247 346.5,253.6 353.7,253.6 353.7,260.2 353.7,260.2 353.7,266.8 353.7,266.8 360.9,266.8 360.9,260.2 375.3,260.2 375.3,253.6 382.5,253.6 382.5,247 389.6,247 389.6,240.4 404,240.4 404,233.8 396.9,233.8 396.9,227.1 396.9,220.5 418.4,220.5 418.4,220.5 432.8,220.5 432.8,213.9 418.4,213.9 418.4,207.3 425.6,207.3 425.6,194.1 454.4,194.1 454.4,200.7 447.2,200.7 447.2,207.3 440,207.3 440,213.9 454.4,213.9 454.4,207.3 468.8,207.3 468.8,200.7 476,200.7 476,194.1 483.2,194.1 490.4,194.1 497.6,194.1 497.6,200.7 512,200.7 512,207.3 533.5,207.3 533.5,200.7 526.4,200.7 526.4,194.1 569.5,194.1 569.5,187.5 576.7,187.5 576.7,180.9 547.9,180.9 547.9,174.3 519.2,174.3 519.2,167.7 512,167.7 497.6,167.7 497.6,161.1 476,161.1ZM512,194.1 512,187.5 526.4,187.5 526.4,194.1ZM389.6,207.3 382.5,207.3 382.5,213.9 375.3,213.9 375.3,200.7 389.6,200.7ZM432.8,227.1 432.8,227.1 418.4,227.1 418.4,227.1ZM605.5,359.3 598.3,359.3 598.3,372.5 583.9,372.5 583.9,372.5 583.9,372.5 583.9,379.1 533.5,379.1 533.5,385.8 540.8,385.8 540.8,392.4 540.8,392.4 540.8,392.4 547.9,392.4 547.9,405.6 555.1,405.6 555.1,412.2 569.5,412.2 569.5,418.8 576.7,418.8 576.7,425.4 583.9,425.4 583.9,432 591.1,432 591.1,445.2 504.8,445.2 504.8,446.9 598.3,446.9 609.1,446.9 609.1,359.3 609.1,352.7 605.5,352.7Z" fill="#ff3200"/>
<path fill-rule="evenodd" d="M512,280 526.4,280 526.4,273.4 547.9,273.4 547.9,266.8 555.1,266.8 555.1,260.2 562.3,260.2 562.3,253.6 555.1,253.6 555.1,247 562.3,247 562.3,220.5 562.3,213.9 533.5,213.9 533.5,207.3 512,207.3 512,200.7 497.6,200.7 497.6,194.1 490.4,194.1 483.2,194.1 476,194.1 476,200.7 468.8,200.7 468.8,207.3 454.4,207.3 454.4,213.9 440,213.9 432.8,213.9 432.8,220.5 418.4,220.5 418.4,220.5 418.4,220.5 418.4,227.1 432.8,227.1 432.8,227.1 432.8,227.1 432.8,233.8 476,233.8 490.4,233.8 490.4,240.4 476,240.4 440,240.4 440,247 432.8,247 432.8,253.6 432.8,260.2 432.8,260.2 432.8,266.8 447.2,266.8 447.2,273.4 476,273.4 483.2,273.4 483.2,280ZM497.6,227.1 512,227.1 512,233.8 497.6,233.8ZM101.8,97 87.5,97 87.5,101.6 101.8,101.6ZM396.9,114.8 404,114.8 404,108.2 404,101.6 389.6,101.6 375.3,101.6 375.3,114.8 375.3,121.4 396.9,121.4ZM598.3,187.5 598.3,194.1 609.1,194.1 609.1,187.5ZM375.3,200.7 375.3,213.9 382.5,213.9 382.5,207.3 389.6,207.3 389.6,200.7Z" fill="#a50000"/>
<path fill-rule="evenodd" d="M447.2,108.2 447.2,114.8 454.4,114.8 454.4,108.2Z" fill="#7d5046"/>
<path fill-rule="evenodd" d="M440,97 440,101.6 447.2,101.6 447.2,97ZM425.6,101.6 404,101.6 404,108.2 425.6,108.2ZM425.6,108.2 425.6,114.8 447.2,114.8 447.2,108.2Z" fill="#c8a096"/>
<use href="#ocean"/><use href="#grid"/><use href="#coast"/></g>
<use href="#axes"/>
</g>
<g transform="translate(1298.1,0)">
<g clip-path="url(#frame)">
<path fill-rule="evenodd" d="M281.7,412.2 281.7,418.8 281.7,425.4 281.7,432 274.5,432 274.5,438.6 288.9,438.6 288.9,432 303.3,432 303.3,438.6 310.5,438.6 310.5,432 317.7,432 317.7,425.4 332.1,425.4 332.1,418.8 332.1,412.2 324.9,412.2 324.9,405.6 303.3,405.6 303.3,399 346.5,399 346.5,399 303.3,399 288.9,399 267.3,399 267.3,405.6 252.9,405.6 252.9,412.2 231.4,412.2 231.4,418.8 224.2,418.8 224.2,425.4 231.4,425.4 231.4,432 231.4,438.6 238.6,438.6 238.6,432 238.6,425.4 238.6,418.8 252.9,418.8 252.9,425.4 260.1,425.4 267.3,425.4 267.3,418.8 267.3,412.2ZM296.1,418.8 296.1,425.4 288.9,425.4 288.9,418.8ZM267.3,445.2 274.5,445.2 274.5,438.6 267.3,438.6ZM533.5,326.3 533.5,332.9 519.2,332.9 519.2,339.5 519.2,346.1 526.4,346.1 526.4,339.5 533.5,339.5 540.8,339.5 540.8,332.9 540.8,326.3ZM562.3,332.9 555.1,332.9 555.1,339.5 547.9,339.5 547.9,346.1 569.5,346.1 576.7,346.1 576.7,346.1 576.7,339.5 562.3,339.5ZM461.6,326.3 461.6,326.3 454.4,326.3 454.4,326.3 440,326.3 440,339.5 447.2,339.5 447.2,339.5 447.2,339.5 447.2,332.9 461.6,332.9 461.6,332.9ZM454.4,352.7 440,352.7 440,346.1 411.2,346.1 404,346.1 382.5,346.1 382.5,346.1 382.5,352.7 382.5,352.7 396.9,352.7 396.9,359.3 404,359.3 404,365.9 404,365.9 411.2,365.9 411.2,365.9 411.2,359.3 411.2,359.3 411.2,365.9 411.2,372.5 411.2,379.1 440,379.1 440,379.1 440,379.1 440,385.8 440,392.4 447.2,392.4 447.2,372.5 461.6,372.5 461.6,365.9 461.6,359.3 468.8,359.3 476,359.3 476,352.7 468.8,352.7ZM476,352.7 483.2,352.7 483.2,352.7 483.2,346.1 476,346.1ZM245.8,299.8 245.8,293.2 238.6,293.2 238.6,286.6 231.4,286.6 231.4,299.8 231.4,299.8 231.4,299.8 217,299.8 217,306.4 231.4,306.4 238.6,306.4 238.6,299.8ZM231.4,313.1 231.4,319.7 231.4,319.7 238.6,319.7 238.6,326.3 238.6,332.9 252.9,332.9 252.9,332.9 252.9,339.5 252.9,346.1 252.9,352.7 195.4,352.7 195.4,359.3 195.4,365.9 195.4,372.5 195.4,379.1 195.4,385.8 195.4,392.4 202.6,392.4 202.6,399 209.8,399 217,399 217,405.6 217,405.6 224.2,405.6 224.2,405.6 224.2,399 252.9,399 260.1,399 260.1,392.4 260.1,385.8 267.3,385.8 267.3,379.1 267.3,372.5 274.5,372.5 274.5,365.9 281.7,365.9 281.7,359.3 281.7,352.7 303.3,352.7 303.3,352.7 288.9,352.7 288.9,339.5 281.7,339.5 281.7,332.9 296.1,332.9 296.1,326.3 288.9,326.3 288.9,319.7 274.5,319.7 274.5,313.1 267.3,313.1 267.3,313.1 231.4,313.1 231.4,313.1ZM51.5,101.6 58.7,101.6 58.7,108.2 51.5,108.2 51.5,114.8 33.5,114.8 33.5,180.9 44.3,180.9 44.3,174.3 37.1,174.3 37.1,167.7 51.5,167.7 51.5,154.4 58.7,154.4 58.7,167.7 65.9,167.7 65.9,174.3 73.1,174.3 73.1,167.7 94.7,167.7 94.7,161.1 101.8,161.1 101.8,141.2 109,141.2 109,128 116.2,128 116.2,114.8 101.8,114.8 101.8,101.6 87.5,101.6 87.5,97 51.5,97ZM94.7,200.7 94.7,194.1 80.3,194.1 80.3,200.7ZM217,273.4 202.6,273.4 202.6,280 188.2,280 188.2,293.2 217,293.2ZM346.5,359.3 353.7,359.3 353.7,365.9 368.1,365.9 368.1,359.3 368.1,352.7 368.1,346.1 360.9,346.1 360.9,339.5 346.5,339.5 346.5,346.1 339.3,346.1 339.3,352.7 346.5,352.7ZM224.2,438.6 224.2,432 224.2,425.4 217,425.4 217,418.8 209.8,418.8 209.8,425.4 209.8,432 195.4,432 195.4,438.6 195.4,445.2 217,445.2 217,438.6ZM260.1,432 252.9,432 252.9,438.6 252.9,445.2 260.1,445.2 260.1,438.6ZM591.1,352.7 591.1,352.7 591.1,359.3 591.1,365.9 583.9,365.9 583.9,372.5 569.5,372.5 569.5,372.5 569.5,379.1 598.3,379.1 598.3,385.8 605.5,385.8 605.5,392.4 583.9,392.4 583.9,385.8 562.3,385.8 562.3,418.8 569.5,418.8 569.5,425.4 576.7,425.4 576.7,432 569.5,432 569.5,438.6 576.7,438.6 576.7,445.2 583.9,445.2 583.9,446.9 609.1,446.9 609.1,352.7 605.5,352.7 591.1,352.7 576.7,352.7 576.7,352.7ZM396.9,372.5 389.6,372.5 389.6,365.9 382.5,365.9 368.1,365.9 368.1,372.5 382.5,372.5 382.5,379.1 389.6,379.1 389.6,385.8 396.9,385.8 396.9,379.1ZM555.1,385.8 555.1,379.1 540.8,379.1 540.8,385.8ZM375.3,392.4 368.1,392.4 368.1,399 375.3,399 382.5,399 382.5,392.4Z" fill="#ffa000"/>
<path fill-rule="evenodd" d="M87.5,97 87.5,101.6 101.8,101.6 101.8,97ZM389.6,101.6 353.7,101.6 353.7,108.2 360.9,108.2 360.9,114.8 375.3,114.8 375.3,108.2 396.9,108.2 396.9,101.6ZM375.3,121.4 396.9,121.4 396.9,114.8 375.3,114.8ZM37.1,167.7 37.1,174.3 44.3,174.3 65.9,174.3 65.9,167.7 58.7,167.7 58.7,154.4 51.5,154.4 51.5,167.7ZM109,200.7 101.8,200.7 101.8,213.9 123.4,213.9 123.4,207.3 152.2,207.3 152.2,194.1 109,194.1ZM317.7,220.5 332.1,220.5 346.5,220.5 346.5,213.9 353.7,213.9 353.7,207.3 368.1,207.3 368.1,200.7 375.3,200.7 375.3,194.1 353.7,194.1 353.7,200.7 339.3,200.7 339.3,207.3 332.1,207.3 332.1,213.9 317.7,213.9ZM339.3,240.4 332.1,240.4 332.1,233.8 324.9,233.8 324.9,227.1 332.1,227.1 332.1,220.5 303.3,220.5 303.3,227.1 303.3,233.8 303.3,240.4 317.7,240.4 317.7,247 317.7,253.6 324.9,253.6 324.9,247 339.3,247ZM404,240.4 404,240.4 404,233.8 404,233.8ZM375.3,260.2 375.3,253.6 382.5,253.6 382.5,247 346.5,247 346.5,240.4 346.5,240.4 346.5,247 346.5,253.6 353.7,253.6 353.7,260.2 353.7,260.2 353.7,266.8 353.7,266.8 360.9,266.8 360.9,260.2ZM252.9,273.4 252.9,266.8 245.8,266.8 245.8,253.6 231.4,253.6 231.4,247 224.2,247 224.2,253.6 209.8,253.6 209.8,266.8 217,266.8 224.2,266.8 224.2,273.4 238.6,273.4 238.6,286.6 231.4,286.6 231.4,286.6 238.6,286.6 238.6,293.2 245.8,293.2 245.8,299.8 267.3,299.8 281.7,299.8 281.7,286.6 267.3,286.6 267.3,280 260.1,280 260.1,273.4ZM217,299.8 217,299.8 231.4,299.8 231.4,299.8ZM231.4,313.1 231.4,313.1 231.4,313.1 231.4,313.1ZM519.2,167.7 512,167.7 497.6,167.7 497.6,161.1 476,161.1 425.6,161.1 425.6,167.7 396.9,167.7 396.9,174.3 375.3,174.3 375.3,194.1 389.6,194.1 389.6,187.5 396.9,187.5 396.9,180.9 418.4,180.9 418.4,174.3 432.8,174.3 432.8,167.7 461.6,167.7 490.4,167.7 490.4,174.3 497.6,174.3 504.8,174.3 504.8,180.9 512,180.9 519.2,180.9 519.2,187.5 526.4,187.5 526.4,194.1 569.5,194.1 569.5,187.5 576.7,187.5 576.7,180.9 547.9,180.9 547.9,174.3 519.2,174.3ZM609.1,187.5 598.3,187.5 598.3,194.1 609.1,194.1ZM526.4,194.1 519.2,194.1 519.2,200.7 526.4,200.7ZM583.9,194.1 576.7,194.1 576.7,200.7 583.9,200.7ZM533.5,200.7 526.4,200.7 526.4,207.3 533.5,207.3ZM562.3,200.7 547.9,200.7 547.9,207.3 562.3,207.3ZM418.4,220.5 404,220.5 404,220.5 418.4,220.5ZM324.9,346.1 339.3,346.1 346.5,346.1 346.5,339.5 360.9,339.5 360.9,346.1 368.1,346.1 375.3,346.1 382.5,346.1 382.5,346.1 404,346.1 411.2,346.1 440,346.1 440,352.7 454.4,352.7 468.8,352.7 476,352.7 476,346.1 483.2,346.1 490.4,346.1 490.4,339.5 504.8,339.5 504.8,332.9 519.2,332.9 533.5,332.9 533.5,326.3 540.8,326.3 555.1,326.3 562.3,326.3 562.3,332.9 562.3,339.5 576.7,339.5 576.7,346.1 576.7,352.7 605.5,352.7 609.1,352.7 609.1,313.1 605.5,313.1 605.5,293.2 497.6,293.2 468.8,293.2 468.8,286.6 461.6,286.6 447.2,286.6 447.2,280 418.4,280 418.4,273.4 389.6,273.4 389.6,280 360.9,280 360.9,273.4 353.7,273.4 353.7,273.4 339.3,273.4 339.3,266.8 346.5,266.8 346.5,260.2 346.5,253.6 324.9,253.6 324.9,260.2 324.9,266.8 324.9,273.4 324.9,280 310.5,280 310.5,286.6 303.3,286.6 303.3,286.6 296.1,286.6 296.1,293.2 288.9,293.2 288.9,299.8 274.5,299.8 274.5,306.4 267.3,306.4 267.3,313.1 267.3,313.1 267.3,313.1 274.5,313.1 274.5,319.7 288.9,319.7 288.9,326.3 296.1,326.3 296.1,332.9 281.7,332.9 281.7,339.5 288.9,339.5 288.9,352.7 303.3,352.7 317.7,352.7 317.7,346.1ZM447.2,339.5 440,339.5 440,326.3 454.4,326.3 454.4,326.3 461.6,326.3 461.6,326.3 461.6,332.9 461.6,332.9 447.2,332.9 447.2,339.5 447.2,339.5ZM411.2,359.3 411.2,365.9 411.2,365.9 411.2,365.9 411.2,359.3ZM598.3,379.1 555.1,379.1 555.1,385.8 583.9,385.8 583.9,392.4 605.5,392.4 605.5,385.8 598.3,385.8ZM440,379.1 440,392.4 440,392.4 440,385.8 440,379.1Z" fill="#ff3200"/>
<path fill-rule="evenodd" d="M432.8,114.8 454.4,114.8 454.4,108.2 432.8,108.2ZM461.6,213.9 461.6,220.5 454.4,220.5 454.4,227.1 468.8,227.1 468.8,220.5 468.8,213.9Z" fill="#c8a096"/>
<path fill-rule="evenodd" d="M497.6,293.2 605.5,293.2 605.5,313.1 609.1,313.1 609.1,220.5 609.1,194.1 598.3,194.1 583.9,194.1 583.9,200.7 576.7,200.7 576.7,207.3 569.5,207.3 562.3,207.3 547.9,207.3 533.5,207.3 526.4,207.3 526.4,200.7 519.2,200.7 519.2,194.1 512,194.1 512,187.5 519.2,187.5 519.2,180.9 512,180.9 504.8,180.9 504.8,174.3 497.6,174.3 490.4,174.3 490.4,167.7 461.6,167.7 432.8,167.7 432.8,174.3 418.4,174.3 418.4,180.9 396.9,180.9 396.9,187.5 389.6,187.5 389.6,194.1 375.3,194.1 375.3,200.7 368.1,200.7 368.1,207.3 353.7,207.3 353.7,213.9 346.5,213.9 346.5,220.5 353.7,220.5 353.7,220.5 346.5,220.5 332.1,220.5 332.1,227.1 324.9,227.1 324.9,233.8 332.1,233.8 332.1,240.4 339.3,240.4 339.3,240.4 346.5,240.4 346.5,240.4 346.5,240.4 346.5,247 382.5,247 382.5,247 389.6,247 389.6,240.4 404,240.4 404,233.8 396.9,233.8 396.9,227.1 396.9,220.5 404,220.5 404,220.5 418.4,220.5 418.4,220.5 418.4,220.5 418.4,227.1 432.8,227.1 432.8,233.8 461.6,233.8 490.4,233.8 490.4,240.4 461.6,240.4 440,240.4 440,247 432.8,247 432.8,253.6 432.8,260.2 425.6,260.2 425.6,266.8 418.4,266.8 418.4,273.4 418.4,273.4 418.4,280 447.2,280 447.2,286.6 461.6,286.6 468.8,286.6 468.8,293.2ZM461.6,220.5 461.6,213.9 468.8,213.9 468.8,220.5 468.8,227.1 461.6,227.1 454.4,227.1 454.4,220.5ZM418.4,207.3 425.6,207.3 425.6,194.1 454.4,194.1 454.4,200.7 447.2,200.7 447.2,207.3 440,207.3 440,213.9 418.4,213.9ZM512,233.8 497.6,233.8 497.6,227.1 512,227.1ZM375.3,114.8 396.9,114.8 404,114.8 404,108.2 425.6,108.2 425.6,101.6 447.2,101.6 447.2,97 389.6,97 389.6,101.6 396.9,101.6 396.9,108.2 375.3,108.2ZM425.6,114.8 432.8,114.8 432.8,108.2 425.6,108.2Z" fill="#a50000"/>
<use href="#ocean"/><use href="#grid"/><use href="#coast"/></g>
<use href="#axes"/>
</g>
<rect x="217.6" y="16" width="202.2" height="32.8" fill="#000"/>
<text x="222" y="40.1" font-size="28" fill="#fff" textLength="194.5" lengthAdjust="spacingAndGlyphs">Décembre 2025</text>
<rect x="879.4" y="16" width="171.6" height="33.8" fill="#000"/>
<text x="882.8" y="40.1" font-size="28" fill="#fff" textLength="164.2" lengthAdjust="spacingAndGlyphs">Janvier 2026</text>
<rect x="1541.7" y="19.9" width="169.6" height="33.8" fill="#000"/>
<text x="1545.5" y="44.0" font-size="28" fill="#fff" textLength="162.0" lengthAdjust="spacingAndGlyphs">Février 2026</text>
<g transform="translate(0,0)">
<text x="196.3" y="71.7" font-size="13.1" fill="#ff4040" word-spacing="5" textLength="249.7" lengthAdjust="spacing">CFSv2 monthly T2m anomalies (K)</text>
<text x="512.5" y="78.6" font-size="11.8" fill="#222" textLength="97.5" lengthAdjust="spacing">NWS/NCEP/CPC</text>
<text x="404.5" y="94.4" font-size="9.2" fill="#111" textLength="204.3" lengthAdjust="spacing">Initial conditions: 22Sep2025−1Oct2025</text>
<text x="34.3" y="93.7" font-size="10.9" fill="#3c3cff" textLength="58.5" lengthAdjust="spacing">Dec 2025</text>
<g transform="translate(561,48.9)">
<clipPath id="lc0"><circle r="20"/></clipPath>
<g clip-path="url(#lc0)">
<circle r="20" fill="#00ffff"/>
<path d="M-22,-4 L-19,-5.5 L-12,0 L-5,5 L-0.5,6 L5,5 L10,3.5 L15,-1 L19.5,-7 L22,-9 L22,-24 L-22,-24Z" fill="#fff"/>
<path d="M-5.5,8 L1,5 L9.5,4 L5,6.2 L-2,8.6Z" fill="#fff"/>
<path d="M-16.5,-11 L-8,1 L-0.5,4.5 L4,3.5 L8,0 L16,-11.5 L18,-24 L-18,-24Z" fill="#1414f0"/>
</g>
<text x="-0.3" y="-6" font-size="6.6" font-weight="bold" fill="#fff" text-anchor="middle" textLength="16" lengthAdjust="spacingAndGlyphs">noaa</text>
</g>
</g>
<g transform="translate(651.6,-2.05)">
<text x="196.3" y="71.7" font-size="13.1" fill="#ff4040" word-spacing="5" textLength="249.7" lengthAdjust="spacing">CFSv2 monthly T2m anomalies (K)</text>
<text x="512.5" y="78.6" font-size="11.8" fill="#222" textLength="97.5" lengthAdjust="spacing">NWS/NCEP/CPC</text>
<text x="404.5" y="94.4" font-size="9.2" fill="#111" textLength="204.3" lengthAdjust="spacing">Initial conditions: 22Sep2025−1Oct2025</text>
<text x="34.3" y="93.7" font-size="10.9" fill="#3c3cff" textLength="58.5" lengthAdjust="spacing">Jan 2026</text>
<g transform="translate(561,48.9)">
<clipPath id="lc1"><circle r="20"/></clipPath>
<g clip-path="url(#lc1)">
<circle r="20" fill="#00ffff"/>
<path d="M-22,-4 L-19,-5.5 L-12,0 L-5,5 L-0.5,6 L5,5 L10,3.5 L15,-1 L19.5,-7 L22,-9 L22,-24 L-22,-24Z" fill="#fff"/>
<path d="M-5.5,8 L1,5 L9.5,4 L5,6.2 L-2,8.6Z" fill="#fff"/>
<path d="M-16.5,-11 L-8,1 L-0.5,4.5 L4,3.5 L8,0 L16,-11.5 L18,-24 L-18,-24Z" fill="#1414f0"/>
</g>
<text x="-0.3" y="-6" font-size="6.6" font-weight="bold" fill="#fff" text-anchor="middle" textLength="16" lengthAdjust="spacingAndGlyphs">noaa</text>
</g>
</g>
<g transform="translate(1298.1,0)">
<text x="196.3" y="71.7" font-size="13.1" fill="#ff4040" word-spacing="5" textLength="249.7" lengthAdjust="spacing">CFSv2 monthly T2m anomalies (K)</text>
<text x="512.5" y="78.6" font-size="11.8" fill="#222" textLength="97.5" lengthAdjust="spacing">NWS/NCEP/CPC</text>
<text x="404.5" y="94.4" font-size="9.2" fill="#111" textLength="204.3" lengthAdjust="spacing">Initial conditions: 22Sep2025−1Oct2025</text>
<text x="34.3" y="93.7" font-size="10.9" fill="#3c3cff" textLength="58.5" lengthAdjust="spacing">Feb 2026</text>
<g transform="translate(561,48.9)">
<clipPath id="lc2"><circle r="20"/></clipPath>
<g clip-path="url(#lc2)">
<circle r="20" fill="#00ffff"/>
<path d="M-22,-4 L-19,-5.5 L-12,0 L-5,5 L-0.5,6 L5,5 L10,3.5 L15,-1 L19.5,-7 L22,-9 L22,-24 L-22,-24Z" fill="#fff"/>
<path d="M-5.5,8 L1,5 L9.5,4 L5,6.2 L-2,8.6Z" fill="#fff"/>
<path d="M-16.5,-11 L-8,1 L-0.5,4.5 L4,3.5 L8,0 L16,-11.5 L18,-24 L-18,-24Z" fill="#1414f0"/>
</g>
<text x="-0.3" y="-6" font-size="6.6" font-weight="bold" fill="#fff" text-anchor="middle" textLength="16" lengthAdjust="spacingAndGlyphs">noaa</text>
</g>
</g>
<rect x="471.8" y="208.8" width="131.8" height="31.5" rx="6" ry="6" fill="#e0322b" stroke="#fff" stroke-width="1.6"/>
<text x="537.7" y="232.0" font-size="21.6" fill="#fff" text-anchor="middle" textLength="96" lengthAdjust="spacingAndGlyphs">Très doux</text>
<rect x="286.2" y="309.7" width="86.8" height="30.8" rx="6" ry="6" fill="#e0322b" stroke="#fff" stroke-width="1.6"/>
<text x="329.6" y="332.5" font-size="21.6" fill="#fff" text-anchor="middle" textLength="50.5" lengthAdjust="spacingAndGlyphs">Doux</text>
<rect x="932.9" y="296.1" width="131.5" height="31.1" rx="6" ry="6" fill="#e0322b" stroke="#fff" stroke-width="1.6"/>
<text x="998.6" y="319.0" font-size="21.6" fill="#fff" text-anchor="middle" textLength="96" lengthAdjust="spacingAndGlyphs">Très doux</text>
<rect x="859.8" y="409.7" width="85.7" height="30.1" rx="6" ry="6" fill="#e0322b" stroke="#fff" stroke-width="1.6"/>
<text x="902.7" y="432.1" font-size="21.6" fill="#fff" text-anchor="middle" textLength="50.5" lengthAdjust="spacingAndGlyphs">Doux</text>
<rect x="1070.5" y="411.7" width="85.1" height="29.7" rx="6" ry="6" fill="#e0322b" stroke="#fff" stroke-width="1.6"/>
<text x="1113.1" y="433.9" font-size="21.6" fill="#fff" text-anchor="middle" textLength="50.5" lengthAdjust="spacingAndGlyphs">Doux</text>
<rect x="1628.4" y="293.5" width="132.0" height="30.8" rx="6" ry="6" fill="#e0322b" stroke="#fff" stroke-width="1.6"/>
<text x="1694.4" y="316.3" font-size="21.6" fill="#fff" text-anchor="middle" textLength="96" lengthAdjust="spacingAndGlyphs">Très doux</text>
<rect x="1485.6" y="362.3" width="85.6" height="29.4" rx="6" ry="6" fill="#e0322b" stroke="#fff" stroke-width="1.6"/>
<text x="1528.4" y="384.4" font-size="21.6" fill="#fff" text-anchor="middle" textLength="50.5" lengthAdjust="spacingAndGlyphs">Doux</text>
<rect x="1773.9" y="388.4" width="84.7" height="28.7" rx="6" ry="6" fill="#e0322b" stroke="#fff" stroke-width="1.6"/>
<text x="1816.2" y="410.1" font-size="21.6" fill="#fff" text-anchor="middle" textLength="50.5" lengthAdjust="spacingAndGlyphs">Doux</text>
</svg></body></html>
